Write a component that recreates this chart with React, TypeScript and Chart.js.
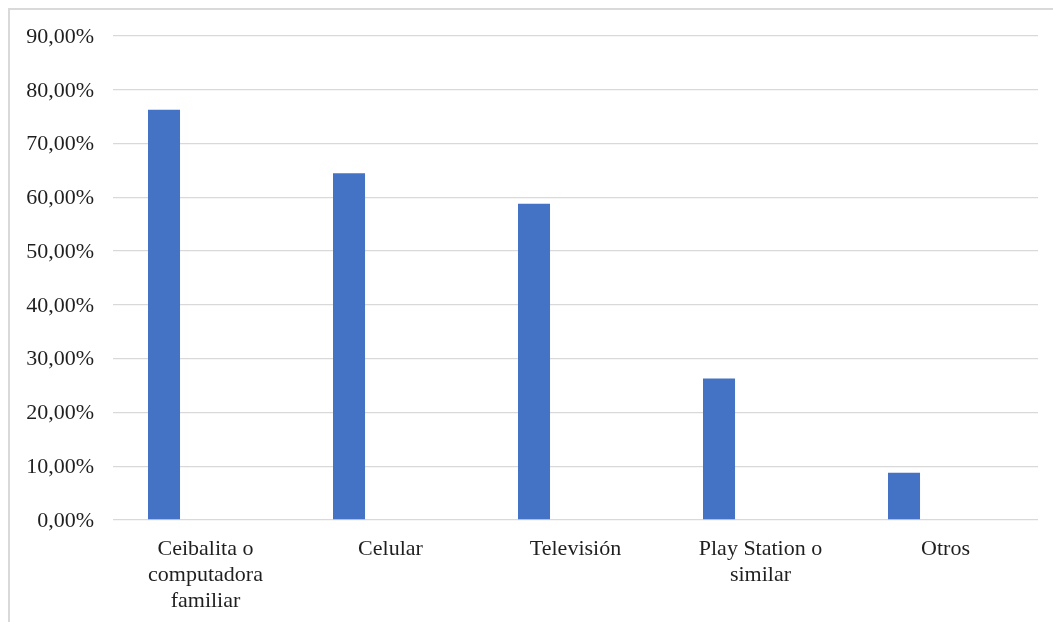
import { useEffect, useRef } from 'react';
import { Chart, registerables } from 'chart.js';

Chart.register(...registerables);

// Dispositivos utilizados (porcentaje de respuestas)
const categories: (string | string[])[] = [
  ['Ceibalita o', 'computadora', 'familiar'],
  'Celular',
  'Televisión',
  ['Play Station o', 'similar'],
  'Otros',
];
const usoPorcentaje = [76.3, 64.5, 58.8, 26.3, 8.8];
// second (empty) series keeps the bar on the left half of each category slot
const serieVacia: (number | null)[] = [null, null, null, null, null];
const yMin = 0;
const yMax = 90;
const yStep = 10;

const FONT = "'Liberation Serif', 'Times New Roman', serif";
const TEXT = '#1f1f1f';
const GRID = '#d9d9d9';

export default function App() {
  const canvasRef = useRef<HTMLCanvasElement | null>(null);

  useEffect(() => {
    const canvas = canvasRef.current;
    if (!canvas) return;
    const chart = new Chart(canvas, {
      type: 'bar',
      data: {
        labels: categories,
        datasets: [
          {
            label: 'Uso',
            data: usoPorcentaje,
            backgroundColor: '#4472C4',
            borderWidth: 0,
            barPercentage: 0.386,
            categoryPercentage: 0.897,
          },
          {
            label: '',
            data: serieVacia,
            backgroundColor: '#ED7D31',
            borderWidth: 0,
            barPercentage: 0.386,
            categoryPercentage: 0.897,
          },
        ],
      },
      options: {
        responsive: false,
        animation: false,
        layout: { padding: { left: 0, top: 36, right: 15, bottom: 0 } },
        plugins: {
          legend: { display: false },
          tooltip: { enabled: false },
          title: { display: false },
        },
        scales: {
          x: {
            grid: { display: false, drawTicks: false },
            border: { display: false },
            ticks: {
              color: TEXT,
              font: { family: FONT, size: 22, lineHeight: 1.18 },
              padding: 16,
              maxRotation: 0,
              autoSkip: false,
            },
            afterFit: (scale: any) => {
              scale.height = 102;
            },
          },
          y: {
            min: yMin,
            max: yMax,
            grid: { color: GRID, lineWidth: 1.3, drawTicks: false },
            border: { display: false },
            ticks: {
              stepSize: yStep,
              color: TEXT,
              font: { family: FONT, size: 22 },
              padding: 19,
              labelOffset: 1,
              callback: (v: any) => Number(v).toFixed(2).replace('.', ',') + '%',
            },
            afterFit: (scale: any) => {
              scale.width = 113;
            },
          },
        },
      },
    });
    return () => chart.destroy();
  }, []);

  return (
    <>
      <div
        style={{
          position: 'fixed',
          left: 8,
          top: 8,
          width: 1045,
          height: 614,
          boxSizing: 'border-box',
          borderTop: `2px solid ${GRID}`,
          borderLeft: `2px solid ${GRID}`,
          pointerEvents: 'none',
        }}
      />
      <div style={{ position: 'fixed', left: 0, top: 0, width: 1053, height: 622 }}>
        <canvas ref={canvasRef} width={1053} height={622} />
      </div>
    </>
  );
}
